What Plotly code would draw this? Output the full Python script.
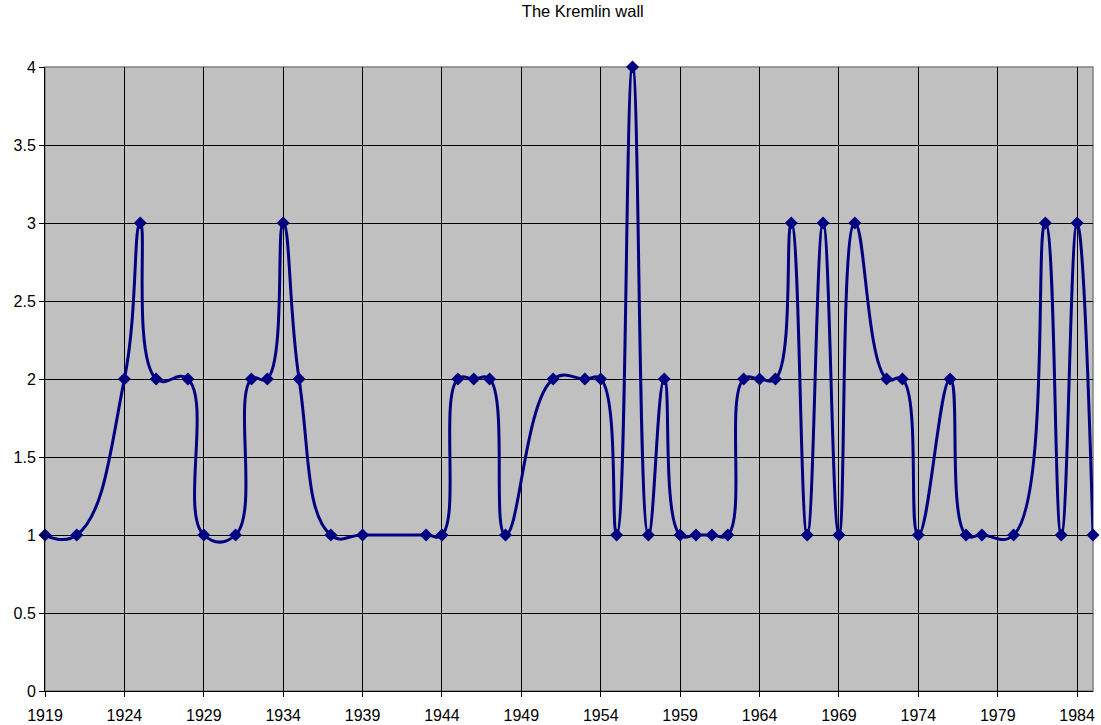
import plotly.graph_objects as go

years = [1919, 1921, 1924, 1925, 1926, 1928, 1929, 1931, 1932, 1933, 1934, 1935,
         1937, 1939, 1943, 1944, 1945, 1946, 1947, 1948, 1951, 1953, 1954, 1955,
         1956, 1957, 1958, 1959, 1960, 1961, 1962, 1963, 1964, 1965, 1966, 1967,
         1968, 1969, 1970, 1972, 1973, 1974, 1976, 1977, 1978, 1980, 1982, 1983,
         1984, 1985]
counts = [1, 1, 2, 3, 2, 2, 1, 1, 2, 2, 3, 2,
          1, 1, 1, 1, 2, 2, 2, 1, 2, 2, 2, 1,
          4, 1, 2, 1, 1, 1, 1, 2, 2, 2, 3, 1,
          3, 1, 3, 2, 2, 1, 2, 1, 1, 1, 3, 1,
          3, 1]
title_text = "The Kremlin wall"

fig = go.Figure()
fig.add_trace(go.Scatter(
    x=years, y=counts, mode="lines+markers",
    line=dict(color="#000080", width=3, shape="spline", smoothing=1.3),
    marker=dict(symbol="diamond", size=10, color="#000080"),
    cliponaxis=False, showlegend=False, hoverinfo="skip",
))

font = "Liberation Sans, Arial, sans-serif"
fig.update_layout(
    width=1101, height=725,
    margin=dict(l=45, r=8, t=67, b=34, autoexpand=False),
    paper_bgcolor="white", plot_bgcolor="#C0C0C0",
    title=dict(text=title_text, x=565/1101, xanchor="center", xref="paper",
               y=1 - 11/725, yanchor="middle", yref="container",
               font=dict(family=font, size=16.5, color="#000")),
    font=dict(family=font, size=16, color="#000"),
    xaxis=dict(range=[1919, 1985], tick0=1919, dtick=5, showgrid=True,
               gridcolor="#000", gridwidth=1, showline=True, linecolor="#000",
               linewidth=1, ticks="outside", ticklen=5, tickcolor="#000",
               zeroline=False, tickfont=dict(size=16), automargin=False,
               ticklabelstandoff=5),
    yaxis=dict(range=[0, 4], dtick=0.5, showgrid=True, gridcolor="#000",
               gridwidth=1, showline=True, linecolor="#000", linewidth=1,
               ticks="outside", ticklen=5, tickcolor="#000", zeroline=False,
               tickfont=dict(size=16), automargin=False),
)
fig.add_shape(type="rect", xref="paper", yref="paper", x0=0, y0=0, x1=1, y1=1,
              line=dict(color="#808080", width=1.5), layer="below")
fig.write_html(
    "out.html",
    config={"displayModeBar": False},
    post_script="document.body.style.margin='0';document.body.style.overflow='hidden';",
)
